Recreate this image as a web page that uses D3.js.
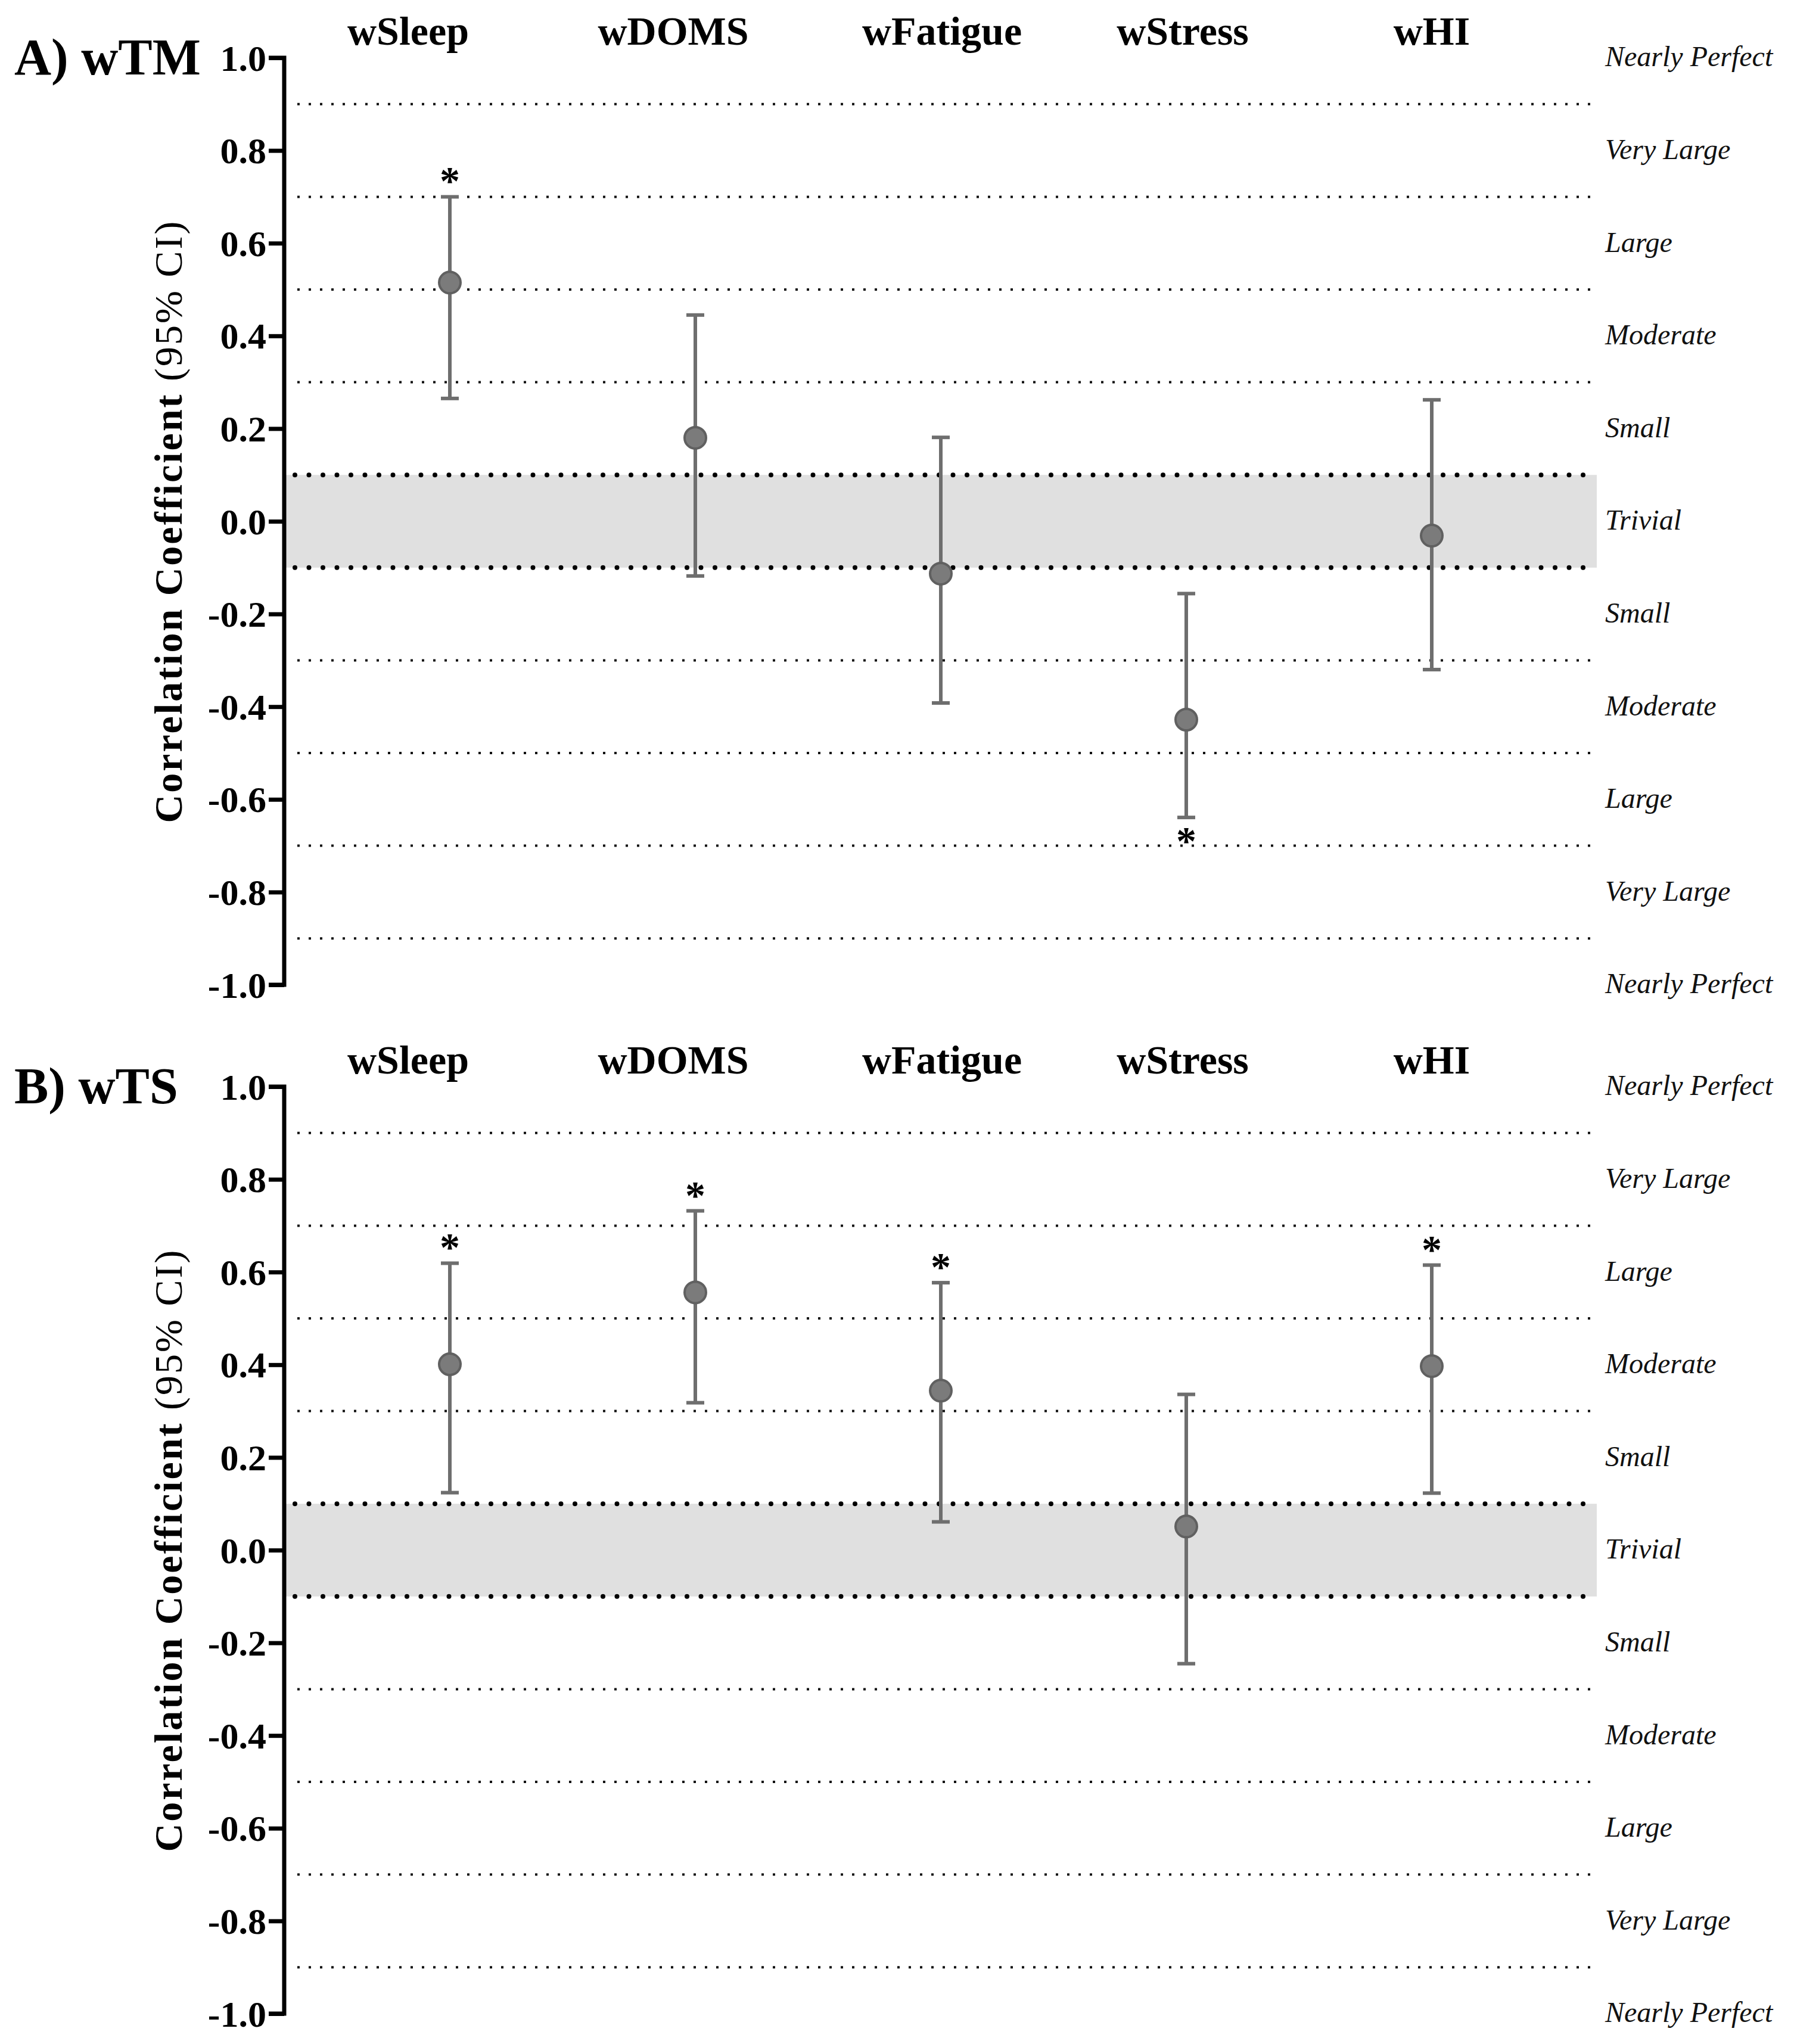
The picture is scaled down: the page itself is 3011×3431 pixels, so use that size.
<!DOCTYPE html>
<html><head><meta charset="utf-8">
<script src="https://cdn.jsdelivr.net/npm/d3@7"></script>
<style>body{margin:0;background:#fff}svg{display:block}</style>
</head><body>
<script>
// ---- data ----
const categories = ["wSleep", "wDOMS", "wFatigue", "wStress", "wHI"];
const wTM_r  = [0.515, 0.180, -0.113, -0.428, -0.031];
const wTM_lo = [0.265, -0.118, -0.392, -0.639, -0.320];
const wTM_hi = [0.700, 0.445, 0.181, -0.156, 0.262];
const wTM_star = ["above", "", "", "below", ""];
const wTS_r  = [0.401, 0.556, 0.344, 0.051, 0.397];
const wTS_lo = [0.124, 0.318, 0.061, -0.245, 0.123];
const wTS_hi = [0.619, 0.732, 0.577, 0.336, 0.615];
const wTS_star = ["above", "above", "above", "", "above"];
const yTicks = [1.0, 0.8, 0.6, 0.4, 0.2, 0.0, -0.2, -0.4, -0.6, -0.8, -1.0];
const thinLines = [0.9, 0.7, 0.5, 0.3, -0.3, -0.5, -0.7, -0.9];
const trivialBand = [-0.1, 0.1];
const zoneLabels = ["Nearly Perfect", "Very Large", "Large", "Moderate", "Small", "Trivial",
                    "Small", "Moderate", "Large", "Very Large", "Nearly Perfect"];
const panelTitles = ["A) wTM", "B) wTS"];

// ---- layout ----
const W = 3011, H = 3431;
const axisX = 477, plotRight = 2680;
const labelShift = [-70, -37, 2, -6, 0];
const panels = [
  {title: panelTitles[0], r: wTM_r, lo: wTM_lo, hi: wTM_hi, star: wTM_star, top: 97, bottom: 1653},
  {title: panelTitles[1], r: wTS_r, lo: wTS_lo, hi: wTS_hi, star: wTS_star, top: 1824, bottom: 3380}
];
const serif = "'Liberation Serif','Times New Roman',serif";
const fmt = d => d3.format(".1f")(d).replace("\u2212", "-");

const svg = d3.select("body").append("svg").attr("width", W).attr("height", H);
const x = d3.scalePoint().domain(categories).range([755, 2403]);

panels.forEach(p => {
  const y = d3.scaleLinear().domain([-1, 1]).range([p.bottom, p.top]);
  const g = svg.append("g");

  // trivial band
  g.append("rect").attr("x", axisX + 3).attr("width", plotRight - axisX - 3)
    .attr("y", y(trivialBand[1])).attr("height", y(trivialBand[0]) - y(trivialBand[1]))
    .attr("fill", "#e0e0e0");

  // thin dotted threshold lines
  g.selectAll(".thin").data(thinLines).join("line")
    .attr("x1", axisX + 22).attr("x2", plotRight)
    .attr("y1", d => y(d)).attr("y2", d => y(d))
    .attr("stroke", "#111").attr("stroke-width", 4).attr("stroke-dasharray", "4 15");
  // thick dotted trivial boundaries
  g.selectAll(".thick").data(trivialBand).join("line")
    .attr("x1", axisX + 18).attr("x2", plotRight)
    .attr("y1", d => y(d)).attr("y2", d => y(d))
    .attr("stroke", "#000").attr("stroke-width", 8).attr("stroke-linecap", "round")
    .attr("stroke-dasharray", "0 23.5");

  // y axis
  const axis = d3.axisLeft(y).tickValues(yTicks).tickFormat(fmt).tickSize(26).tickPadding(4);
  const ag = g.append("g").attr("transform", `translate(${axisX},0)`).call(axis);
  ag.select(".domain").attr("stroke", "#000").attr("stroke-width", 7)
    .attr("d", `M-26,${y(1)}H0V${y(-1)}H-26`).attr("fill", "none");
  ag.selectAll(".tick line").attr("stroke", "#000").attr("stroke-width", 7);
  ag.selectAll(".tick text").attr("font-family", serif).attr("font-weight", "bold")
    .attr("font-size", 62).attr("fill", "#000").attr("dy", "0.34em");

  // y axis title
  const yc = y(0);
  const t = g.append("text").attr("transform", `translate(305,${yc}) rotate(-90)`)
    .attr("text-anchor", "middle").attr("font-family", serif).attr("font-size", 66)
    .attr("letter-spacing", 3).attr("fill", "#000");
  t.append("tspan").attr("font-weight", "bold").text("Correlation Coefficient ");
  t.append("tspan").attr("font-weight", "normal").text("(95% CI)");

  // panel title
  g.append("text").attr("x", 24).attr("y", y(1)).attr("dy", "0.33em")
    .attr("font-family", serif).attr("font-weight", "bold").attr("font-size", 86)
    .attr("fill", "#000").text(p.title);

  // category labels
  g.selectAll(".cat").data(categories).join("text")
    .attr("x", (d, i) => x(d) + labelShift[i]).attr("y", p.top - 22)
    .attr("text-anchor", "middle").attr("font-family", serif).attr("font-weight", "bold")
    .attr("font-size", 68).attr("fill", "#000").text(d => d);

  // zone labels
  g.selectAll(".zone").data(zoneLabels).join("text")
    .attr("x", plotRight + 14).attr("y", (d, i) => y(yTicks[i])).attr("dy", "0.3em")
    .attr("font-family", serif).attr("font-style", "italic").attr("font-size", 48)
    .attr("fill", "#111").text(d => d);

  // error bars
  const eb = g.selectAll(".eb").data(categories).join("g");
  eb.append("line").attr("x1", d => x(d)).attr("x2", d => x(d))
    .attr("y1", (d, i) => y(p.hi[i])).attr("y2", (d, i) => y(p.lo[i]))
    .attr("stroke", "#6e6e6e").attr("stroke-width", 6);
  eb.append("line").attr("x1", d => x(d) - 15).attr("x2", d => x(d) + 15)
    .attr("y1", (d, i) => y(p.hi[i])).attr("y2", (d, i) => y(p.hi[i]))
    .attr("stroke", "#6e6e6e").attr("stroke-width", 6);
  eb.append("line").attr("x1", d => x(d) - 15).attr("x2", d => x(d) + 15)
    .attr("y1", (d, i) => y(p.lo[i])).attr("y2", (d, i) => y(p.lo[i]))
    .attr("stroke", "#6e6e6e").attr("stroke-width", 6);
  eb.append("circle").attr("cx", d => x(d)).attr("cy", (d, i) => y(p.r[i])).attr("r", 18)
    .attr("fill", "#7b7b7b").attr("stroke", "#606060").attr("stroke-width", 4);

  // significance stars
  g.selectAll(".star").data(categories.filter((d, i) => p.star[i]))
    .join("text")
    .attr("x", d => x(d))
    .attr("y", d => {
      const i = categories.indexOf(d);
      return p.star[i] === "above" ? y(p.hi[i]) - 4 : y(p.lo[i]) + 62;
    })
    .attr("text-anchor", "middle").attr("font-family", serif).attr("font-weight", "bold")
    .attr("font-size", 68).attr("fill", "#000").text("*");
});
</script>
</body></html>
